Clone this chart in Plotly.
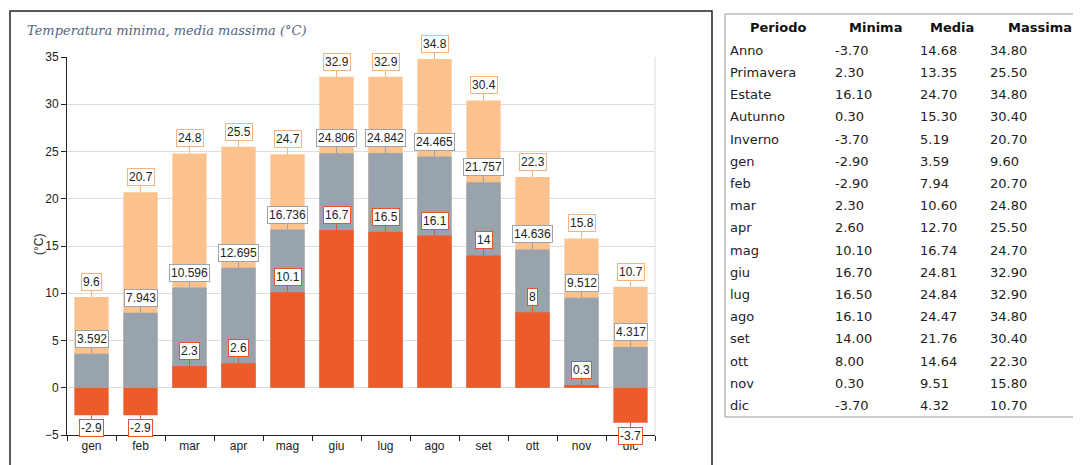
import plotly.graph_objects as go

# monthly values for the chart
mesi = ["gen", "feb", "mar", "apr", "mag", "giu", "lug", "ago", "set", "ott", "nov", "dic"]
minima = [-2.9, -2.9, 2.3, 2.6, 10.1, 16.7, 16.5, 16.1, 14, 8, 0.3, -3.7]
media = [3.592, 7.943, 10.596, 12.695, 16.736, 24.806, 24.842, 24.465, 21.757, 14.636, 9.512, 4.317]
massima = [9.6, 20.7, 24.8, 25.5, 24.7, 32.9, 32.9, 34.8, 30.4, 22.3, 15.8, 10.7]

# summary table
intestazioni = ["Periodo", "Minima", "Media", "Massima"]
periodi = ["Anno", "Primavera", "Estate", "Autunno", "Inverno",
           "gen", "feb", "mar", "apr", "mag", "giu", "lug", "ago", "set", "ott", "nov", "dic"]
tab_min = [-3.70, 2.30, 16.10, 0.30, -3.70, -2.90, -2.90, 2.30, 2.60, 10.10, 16.70, 16.50, 16.10, 14.00, 8.00, 0.30, -3.70]
tab_med = [14.68, 13.35, 24.70, 15.30, 5.19, 3.59, 7.94, 10.60, 12.70, 16.74, 24.81, 24.84, 24.47, 21.76, 14.64, 9.51, 4.32]
tab_max = [34.80, 25.50, 34.80, 30.40, 20.70, 9.60, 20.70, 24.80, 25.50, 24.70, 32.90, 32.90, 34.80, 30.40, 22.30, 15.80, 10.70]

W, H = 1081, 465
OFF = 8  # page body margin


def px(p):
    return (p - OFF) / W


def py(p):
    return min(1.0, (H - (p - OFF)) / H)


C_MAX, C_MED, C_MIN = "#fcc28e", "#98a3ad", "#ee5b2b"
B_MAX, B_MED, B_MIN = "#f7b37a", "#9aa4ae", "#e8532a"

fig = go.Figure()
fig.add_trace(go.Bar(x=mesi, y=massima, marker_color=C_MAX, name="Massima"))
fig.add_trace(go.Bar(x=mesi, y=media, marker_color=C_MED, name="Media"))
fig.add_trace(go.Bar(x=mesi, y=minima, marker_color=C_MIN, name="Minima"))

# boxed value labels
for vals, border in [(massima, B_MAX), (media, B_MED), (minima, B_MIN)]:
    for m, v in zip(mesi, vals):
        fig.add_annotation(
            x=m, y=v, text=f"{v:g}", showarrow=True, arrowhead=0, arrowwidth=1,
            arrowcolor=border, ax=0, ay=(-15 if v >= 0 else 13),
            bgcolor="white", bordercolor=border, borderwidth=1, borderpad=1,
            font=dict(family="Liberation Sans, Arial", size=12, color="#222"))

fig.add_trace(go.Table(
    domain=dict(x=[px(722), 1], y=[0, py(21)]),
    columnwidth=[105, 85, 70, 107],
    header=dict(values=[], height=1, fill_color="white", line_width=0),
    cells=dict(values=[periodi,
                       [f"{v:.2f}" for v in tab_min],
                       [f"{v:.2f}" for v in tab_med],
                       [f"{v:.2f}" for v in tab_max]],
               align="left", height=22.2, fill_color="white", line_width=0,
               font=dict(family="DejaVu Sans", size=13, color="#222")),
))

# table header
for name, cx in zip(intestazioni, [778, 875, 952, 1040]):
    fig.add_annotation(xref="paper", yref="paper", x=px(cx), y=py(27), text=f"<b>{name}</b>",
                       showarrow=False, xanchor="center", yanchor="middle",
                       font=dict(family="DejaVu Sans", size=13, color="#111"))

fig.add_annotation(xref="paper", yref="paper", x=px(25), y=py(30),
                   text="<i>Temperatura minima, media massima (°C)</i>", showarrow=False,
                   xanchor="left", yanchor="middle",
                   font=dict(family="DejaVu Serif", size=13, color="#56657c"))
fig.add_annotation(xref="paper", yref="paper", x=px(30), y=py(245),
                   text="(°C)", showarrow=False, textangle=-90,
                   font=dict(family="Liberation Sans, Arial", size=12, color="#222"))

# outer frame of the chart panel and of the table
fig.add_shape(type="rect", xref="paper", yref="paper", x0=px(10), x1=px(712),
              y0=-0.05, y1=py(11), line=dict(color="#222", width=1.5))
fig.add_shape(type="rect", xref="paper", yref="paper", x0=px(725), x1=1.05,
              y0=py(417), y1=py(14), line=dict(color="#999", width=1))
fig.add_shape(type="line", xref="x domain", yref="y domain", x0=1, x1=1, y0=0, y1=1,
              line=dict(color="#dddddd", width=1))

fig.update_layout(
    template="none", width=W, height=H, showlegend=False, barmode="overlay", bargap=0.3,
    margin=dict(l=0, r=0, t=0, b=0), paper_bgcolor="white", plot_bgcolor="white",
    font=dict(family="Liberation Sans, Arial", size=12, color="#222"),
    xaxis=dict(domain=[px(67), px(655)], showline=True, linecolor="#222", linewidth=1,
               ticks="outside", ticklen=5, tickcolor="#222", tickson="boundaries",
               showgrid=False, automargin=False),
    yaxis=dict(domain=[py(435), py(57)], range=[-5, 35], dtick=5, showline=True,
               linecolor="#222", linewidth=1, ticks="outside", ticklen=5, tickcolor="#222",
               showgrid=True, gridcolor="#dddddd", zeroline=False, automargin=False),
)

fig.write_html("out.html")
